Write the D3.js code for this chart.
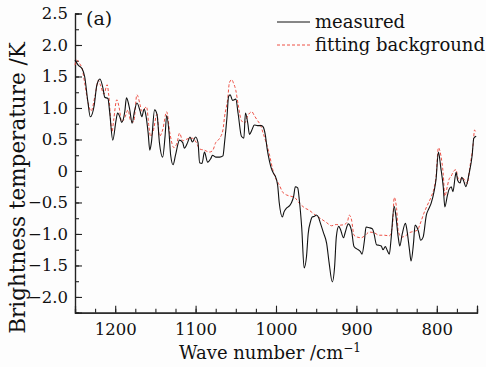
<!DOCTYPE html>
<html>
<head>
<meta charset="utf-8">
<script src="https://cdn.jsdelivr.net/npm/d3@7"></script>
<style>
  html, body { margin: 0; padding: 0; background: #fdfdfd; }
  svg text { font-family: "DejaVu Serif", "Liberation Serif", serif; fill: #111; }
</style>
</head>
<body>
<div id="graph"></div>
<script>
// measured spectrum (wave number, brightness temperature)
var measuredWave = [
  1250, 1246, 1241, 1238, 1234, 1231, 1226, 1223, 1219, 1215,
  1213, 1209, 1207, 1203, 1199, 1197, 1194, 1192, 1188, 1186,
  1182, 1179, 1176, 1173, 1169, 1167, 1164, 1162, 1159, 1157,
  1155, 1151, 1148, 1145, 1141, 1138, 1136, 1133, 1131, 1128,
  1125, 1120, 1116, 1114, 1110, 1107, 1104, 1100, 1097, 1095,
  1092, 1089, 1085, 1081, 1079, 1075, 1070, 1066, 1064, 1061,
  1059, 1057, 1054, 1050, 1047, 1043, 1040, 1038, 1035, 1033,
  1030, 1027, 1023, 1018, 1016, 1013, 1011, 1008, 1006, 1003,
  1001, 998, 996, 992, 990, 987, 983, 981, 978, 976,
  973, 971, 968, 965, 962, 960, 957, 955, 952, 950,
  947, 945, 941, 937, 934, 930, 927, 925, 922, 920,
  916, 914, 910, 906, 903, 899, 895, 893, 890, 888,
  884, 880, 878, 875, 872, 869, 867, 864, 862, 859,
  857, 853, 851, 848, 846, 843, 839, 837, 834, 832,
  829, 827, 823, 820, 817, 813, 810, 807, 803, 801,
  798, 795, 792, 790, 787, 785, 782, 780, 777, 776,
  774, 771, 769, 766, 764, 760, 756, 754, 751
];
var measuredBT = [
  1.76, 1.68, 1.62, 1.50, 1.10, 0.86, 1.05, 1.35, 1.46, 1.30,
  1.17, 1.15, 0.95, 0.49, 0.80, 0.92, 0.85, 0.77, 0.95, 1.16,
  0.98, 0.76, 0.95, 1.08, 0.95, 0.86, 0.98, 0.90, 0.60, 0.33,
  0.45, 0.97, 0.90, 0.45, 0.22, 0.55, 0.88, 0.60, 0.25, 0.10,
  0.25, 0.49, 0.45, 0.36, 0.45, 0.54, 0.46, 0.54, 0.45, 0.13,
  0.12, 0.30, 0.14, 0.20, 0.25, 0.22, 0.22, 0.24, 0.45, 0.85,
  1.18, 1.21, 1.12, 1.14, 0.90, 0.55, 0.52, 0.92, 0.75, 0.58,
  0.65, 0.73, 0.72, 0.72, 0.70, 0.55, 0.35, 0.15, 0.05, -0.04,
  -0.08, -0.22, -0.50, -0.73, -0.65, -0.59, -0.55, -0.51, -0.40, -0.25,
  -0.27, -0.46, -0.90, -1.54, -1.35, -1.00, -0.80, -0.73, -0.72, -0.70,
  -0.74, -0.82, -0.98, -1.15, -1.45, -1.76, -1.50, -1.05, -0.88, -0.92,
  -1.06, -0.98, -0.84, -0.95, -1.20, -1.24, -1.28, -1.32, -1.10, -0.89,
  -0.90, -0.92, -1.00, -1.17, -1.18, -1.19, -1.25, -1.20, -1.25, -1.32,
  -1.10, -0.56, -0.70, -1.05, -1.19, -1.00, -0.83, -0.95, -1.25, -1.43,
  -1.15, -0.86, -0.95, -1.10, -1.05, -0.70, -0.60, -0.51, -0.30, -0.14,
  0.30, 0.05, -0.25, -0.57, -0.40, -0.30, -0.25, -0.33, -0.08, -0.02,
  -0.15, -0.19, -0.10, -0.18, -0.25, -0.05, 0.25, 0.52, 0.55
];

// fitted background
var fitWave = [
  1250, 1248, 1244, 1241, 1238, 1234, 1230, 1225, 1221, 1218,
  1214, 1210, 1208, 1204, 1202, 1198, 1195, 1192, 1188, 1184,
  1181, 1177, 1173, 1169, 1167, 1163, 1161, 1158, 1156, 1153,
  1148, 1145, 1141, 1136, 1132, 1127, 1123, 1120, 1116, 1112,
  1107, 1104, 1099, 1095, 1089, 1083, 1079, 1075, 1070, 1066,
  1064, 1060, 1058, 1055, 1053, 1050, 1047, 1043, 1039, 1035,
  1030, 1027, 1023, 1019, 1016, 1012, 1008, 1004, 1001, 996,
  992, 987, 982, 977, 971, 965, 958, 955, 949, 944,
  937, 931, 925, 920, 915, 911, 909, 906, 903, 899,
  894, 889, 884, 878, 872, 865, 859, 855, 853, 850,
  848, 844, 839, 834, 829, 824, 821, 816, 812, 807,
  803, 801, 798, 795, 792, 790, 787, 785, 782, 779,
  776, 774, 771, 769, 765, 762, 759, 755, 753, 751
];
var fitBT = [
  1.68, 1.76, 1.70, 1.62, 1.40, 1.10, 0.95, 1.20, 1.44, 1.35,
  1.22, 1.37, 1.20, 0.62, 0.80, 1.13, 1.00, 0.78, 0.85, 0.97,
  0.80, 0.78, 1.21, 1.05, 0.95, 1.00, 1.02, 0.70, 0.55, 0.62,
  0.90, 0.55, 0.65, 0.94, 0.60, 0.37, 0.45, 0.60, 0.48, 0.50,
  0.52, 0.52, 0.45, 0.35, 0.33, 0.30, 0.32, 0.45, 0.52, 0.65,
  0.86, 1.15, 1.40, 1.45, 1.40, 1.28, 1.05, 0.80, 0.76, 0.88,
  0.94, 0.88, 0.80, 0.72, 0.60, 0.44, 0.25, 0.02, -0.10, -0.22,
  -0.33, -0.38, -0.40, -0.42, -0.51, -0.58, -0.63, -0.66, -0.72, -0.76,
  -0.82, -0.87, -0.85, -0.86, -0.85, -0.80, -0.70, -0.78, -1.02, -1.05,
  -1.06, -1.02, -0.97, -0.98, -1.02, -1.02, -1.03, -0.85, -0.42, -0.60,
  -0.95, -1.05, -1.03, -0.98, -0.96, -0.94, -0.85, -0.67, -0.55, -0.41,
  -0.25, -0.10, 0.37, 0.25, -0.05, -0.40, -0.25, -0.14, -0.08, 0.00,
  0.02, -0.10, -0.15, -0.10, -0.15, -0.20, 0.05, 0.40, 0.65, 0.60
];

var xTicks = [1200, 1100, 1000, 900, 800];
var yTicks = [-2.0, -1.5, -1.0, -0.5, 0, 0.5, 1.0, 1.5, 2.0, 2.5];
var seriesNames = ["measured", "fitting background"];

var WIDTH = 486, HEIGHT = 367;
var LEFT = 75, RIGHT = 477, TOP = 13.5, BOTTOM = 312.7;

var svg = d3.select("#graph")
  .append("svg")
    .attr("width", WIDTH)
    .attr("height", HEIGHT);

// Scales: wave number axis runs backwards
var xscale = d3.scaleLinear().domain([1250, 750]).range([LEFT, RIGHT]);
var yscale = d3.scaleLinear().domain([-2.25, 2.5]).range([BOTTOM, TOP]);

// Minor ticks first, then the labelled major ticks
svg.append("g")
  .attr("transform", "translate(0," + BOTTOM + ")")
  .call(d3.axisBottom(xscale).tickValues(d3.range(750, 1251, 25)).tickSize(-4).tickFormat(""));
svg.append("g")
  .attr("transform", "translate(" + LEFT + ",0)")
  .call(d3.axisLeft(yscale).tickValues(d3.range(-2.25, 2.51, 0.25)).tickSize(-4).tickFormat(""));

svg.append("g")
  .attr("transform", "translate(0," + BOTTOM + ")")
  .call(d3.axisBottom(xscale).tickValues(xTicks.concat([750])).tickSize(-7).tickPadding(11)
    .tickFormat(function(d) { return d === 750 ? "" : d; }));

svg.append("g")
  .attr("transform", "translate(" + LEFT + ",0)")
  .call(d3.axisLeft(yscale).tickValues(yTicks).tickSize(-7).tickPadding(7)
    .tickFormat(function(d) { return d === 0 ? "0" : d3.format(".1f")(d); }));

svg.selectAll(".domain").attr("stroke", "#222").attr("stroke-width", 1.2);
svg.selectAll(".tick line").attr("stroke", "#222").attr("stroke-width", 1.1);
svg.selectAll(".tick text")
   .attr("font-size", 16.5)
   .attr("font-family", "DejaVu Serif")
   .attr("fill", "#111");

// Curves
var measured = measuredWave.map(function(w, i) { return [w, measuredBT[i]]; });
var fitted = fitWave.map(function(w, i) { return [w, fitBT[i]]; });

var line = d3.line()
  .x(function(d) { return xscale(d[0]); })
  .y(function(d) { return yscale(d[1]); })
  .curve(d3.curveMonotoneX);

svg.append("path")
  .datum(fitted)
  .attr("d", line)
  .attr("fill", "none")
  .attr("stroke", "#ee5045")
  .attr("stroke-width", 1)
  .attr("stroke-dasharray", "3,2");

svg.append("path")
  .datum(measured)
  .attr("d", line)
  .attr("fill", "none")
  .attr("stroke", "#111")
  .attr("stroke-width", 1.1);

// Legend
var legend = svg.append("g");
legend.append("line")
  .attr("x1", 277).attr("x2", 310).attr("y1", 22).attr("y2", 22)
  .attr("stroke", "#111").attr("stroke-width", 1);
legend.append("line")
  .attr("x1", 277).attr("x2", 310).attr("y1", 45).attr("y2", 45)
  .attr("stroke", "#ee5045").attr("stroke-width", 1).attr("stroke-dasharray", "3,2");
legend.selectAll("text")
  .data(seriesNames)
  .enter().append("text")
    .attr("x", 315)
    .attr("y", function(d, i) { return 28 + i * 23; })
    .attr("font-size", 18)
    .text(function(d) { return d; });

// Panel label
svg.append("text")
  .attr("x", 86).attr("y", 25)
  .attr("font-size", 19)
  .text("(a)");

// Axis titles
var xt = svg.append("text")
  .attr("x", 270).attr("y", 359)
  .attr("text-anchor", "middle")
  .attr("font-size", 18);
xt.append("tspan").text("Wave number /cm");
xt.append("tspan").attr("dy", -7).attr("font-size", 12).text("\u22121");

svg.append("text")
  .attr("transform", "translate(25," + 188 + ") rotate(-90)")
  .attr("text-anchor", "middle")
  .attr("font-size", 21.5)
  .text("Brightness temperature /K");
</script>
</body>
</html>
